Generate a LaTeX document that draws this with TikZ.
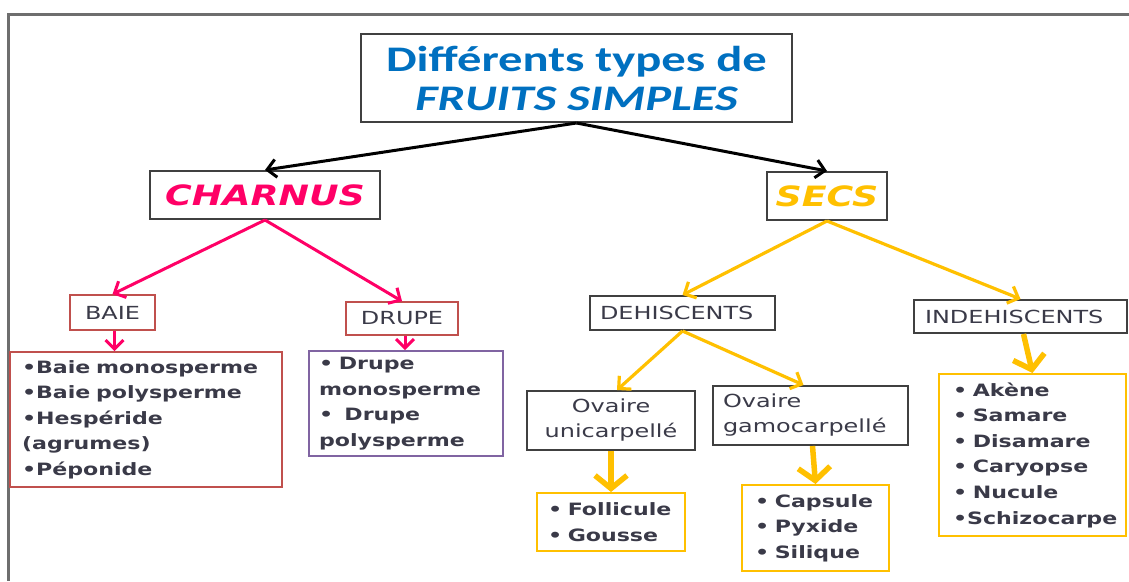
\documentclass[tikz,border=0pt]{standalone}
\usepackage{fontspec}
\usetikzlibrary{arrows.meta}
\newfontfamily\titlefont[FakeStretch=1.35]{Carlito}
\newfontfamily\charfont[FakeStretch=1.3]{DejaVu Sans Bold Oblique}
\newfontfamily\listfont[FakeStretch=1.3]{DejaVu Sans Bold}
\newfontfamily\regfont[FakeStretch=1.33]{DejaVu Sans}
\definecolor{tblue}{HTML}{0070C0}
\definecolor{tpink}{RGB}{255,0,102}
\definecolor{torange}{RGB}{255,192,0}
\definecolor{rose}{HTML}{C0504D}
\definecolor{purp}{HTML}{8064A2}
\definecolor{boxgray}{HTML}{404040}
\definecolor{textgray}{HTML}{3A3A48}
\definecolor{framegray}{HTML}{6E6E6E}
\tikzset{
  box/.style={draw=boxgray, line width=2pt, inner sep=0pt, text=textgray},
  rosebox/.style={box, draw=rose, line width=1.6pt},
  purpbox/.style={box, draw=purp, line width=1.6pt},
  orbox/.style={box, draw=torange, line width=2pt},
  listtext/.style={font=\listfont\fontsize{17}{25.5}\selectfont, align=left},
  regtext/.style={font=\regfont\fontsize{18}{25}\selectfont},
  blackarrow/.style={draw=black, line width=3pt, -{Straight Barb[length=9pt,width=18pt]}},
  pinkarrow/.style={draw=tpink, line width=3pt, -{Straight Barb[length=9pt,width=18pt]}},
  orarrow/.style={draw=torange, line width=3.2pt, -{Straight Barb[length=9pt,width=18pt]}},
  thickarrow/.style={draw=torange, line width=5.5pt, -{Straight Barb[length=13pt,width=32pt]}},
}
\begin{document}
\begin{tikzpicture}[x=1pt,y=-1pt]
\useasboundingbox (0,0) rectangle (1129,581);
% frame
\draw[framegray, line width=3pt] (1129,14) -- (8,14) -- (8,581);

% title
\node[box, minimum width=431pt, minimum height=88pt, align=center,
      text=tblue, font=\titlefont\bfseries\fontsize{36}{39}\selectfont]
  (title) at (576.5,78) {Différents types de\\\itshape FRUITS SIMPLES};

% level 1
\node[box, minimum width=230pt, minimum height=48pt, text=tpink,
      font=\charfont\fontsize{28}{30}\selectfont] (charnus) at (265,195) {CHARNUS};
\node[box, minimum width=120pt, minimum height=48pt, text=torange,
      font=\charfont\fontsize{28}{30}\selectfont] (secs) at (827,196) {SECS};

% level 2
\node[rosebox, regtext, minimum width=85pt, minimum height=35pt] (baie) at (112.5,312.5) {BAIE};
\node[rosebox, regtext, minimum width=112pt, minimum height=33pt] (drupe) at (402,318.5) {DRUPE};
\node[box, regtext, minimum height=34pt, text width=165pt, inner xsep=10pt, align=left] (dehis) at (682.5,313) {DEHISCENTS};
\node[box, regtext, minimum height=33pt, text width=191pt, inner xsep=11pt, align=left] (indehis) at (1020.5,316.5) {INDEHISCENTS};

% lists under charnus
\node[rosebox, listtext, minimum height=135pt, text width=248pt, inner xsep=12pt] (baielist) at (146,419.5)
  {•Baie~monosperme\\•Baie~polysperme\\•Hespéride\\(agrumes)\\•Péponide};
\node[purpbox, listtext, minimum height=105pt, text width=174pt, inner xsep=10pt] (drupelist) at (406,403.5)
  {•~Drupe\\monosperme\\•~~Drupe\\polysperme};

% ovaires
\node[box, regtext, minimum width=168pt, minimum height=59pt, align=center] (uni) at (611,420.5)
  {Ovaire\\unicarpellé};
\node[box, regtext, minimum height=59pt, text width=175pt, inner xsep=10pt, align=left] (gamo) at (810.5,415.5)
  {Ovaire\\gamocarpellé};

% orange lists
\node[orbox, listtext, minimum height=58pt, text width=126pt, inner xsep=11pt] (foll) at (611,522)
  {•~Follicule\\•~Gousse};
\node[orbox, listtext, minimum height=86pt, text width=121pt, inner xsep=13pt] (caps) at (815.5,528)
  {•~Capsule\\•~Pyxide\\•~Silique};
\node[orbox, listtext, minimum height=162pt, text width=159pt, inner xsep=14pt,
      font=\listfont\fontsize{17}{25.6}\selectfont] (indlist) at (1032.5,455)
  {•~Akène\\•~Samare\\•~Disamare\\•~Caryopse\\•~Nucule\\•Schizocarpe};

% connectors
\draw[blackarrow] (title.south) -- (charnus.north);
\draw[blackarrow] (title.south) -- (secs.north);
\draw[pinkarrow] (charnus.south) -- (baie.north);
\draw[pinkarrow] (charnus.south) -- (drupe.north);
\draw[pinkarrow] ([xshift=2pt]baie.south) -- ([xshift=2pt]baie.south |- baielist.north);
\draw[pinkarrow] ([xshift=3pt]drupe.south) -- ([xshift=3pt]drupe.south |- drupelist.north);
\draw[orarrow] (secs.south) -- (dehis.north);
\draw[orarrow] (secs.south) -- (indehis.north);
\draw[orarrow] (dehis.south) -- ([xshift=6pt]uni.north);
\draw[orarrow] (dehis.south) -- ([xshift=-7pt]gamo.north);
\draw[thickarrow] (uni.south) -- (foll.north);
\draw[thickarrow] ([xshift=2pt]gamo.south) -- (caps.north);
\draw[thickarrow] ([xshift=3pt]indehis.south) -- (indlist.north);
\end{tikzpicture}
\end{document}
